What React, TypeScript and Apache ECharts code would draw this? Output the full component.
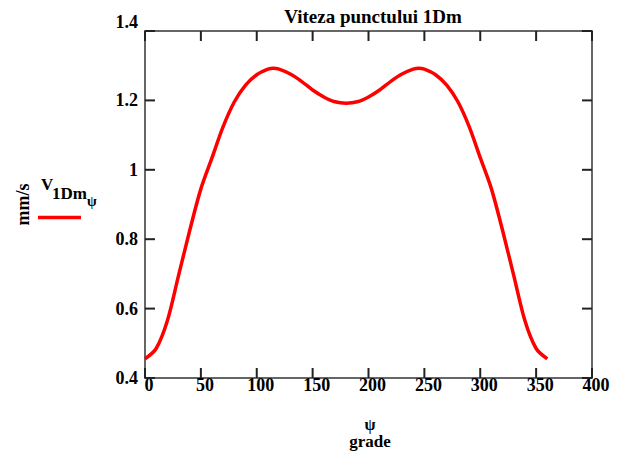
import React, { useEffect, useRef } from "react";
import * as echarts from "echarts";

const TITLE = "Viteza punctului 1Dm";
const X_NAME_TOP = "ψ";
const X_NAME_BOTTOM = "grade";
const Y_NAME = "mm/s";
const LEGEND_MAIN = "V";
const LEGEND_SUB = "1Dm";
const LEGEND_SUBSUB = "ψ";

const psi = [0, 10, 20, 30, 40, 50, 60, 70, 80, 90, 100, 110, 115, 120, 130, 140, 150, 160, 170, 180,
  190, 200, 210, 220, 230, 240, 245, 250, 260, 270, 280, 290, 300, 310, 320, 330, 340, 350, 360];
const v1Dm = [0.455, 0.485, 0.565, 0.695, 0.825, 0.945, 1.035, 1.125, 1.196, 1.244, 1.274, 1.29, 1.293, 1.29, 1.276, 1.255, 1.23, 1.21, 1.196, 1.192,
  1.196, 1.21, 1.23, 1.255, 1.276, 1.29, 1.293, 1.29, 1.274, 1.244, 1.196, 1.125, 1.035, 0.945, 0.825, 0.695, 0.565, 0.485, 0.455];

const X_TICKS = [0, 50, 100, 150, 200, 250, 300, 350, 400];
const Y_TICKS = [0.4, 0.6, 0.8, 1.0, 1.2, 1.4];
const X_MIN = 0, X_MAX = 400, X_STEP = 50;
const Y_MIN = 0.4, Y_MAX = 1.4, Y_STEP = 0.2;

const FONT = "'Liberation Serif', 'Times New Roman', serif";
const TICK_LEN = 10;
const FRAME_COLOR = "#333333";

export default function App() {
  const ref = useRef<HTMLDivElement>(null);
  useEffect(() => {
    if (!ref.current) return;
    const chart = echarts.init(ref.current, null, { renderer: "svg" });
    const data = psi.map((x, i) => [x, v1Dm[i]]);
    const mkLine = () => ({ color: FRAME_COLOR, width: 1.5 });
    const xBase = { type: "value", min: X_MIN, max: X_MAX, interval: X_STEP, splitLine: { show: false } };
    const yBase = { type: "value", min: Y_MIN, max: Y_MAX, interval: Y_STEP, splitLine: { show: false } };
    const textGraphics = [
      {
        type: "text",
        x: 370,
        y: 424,
        style: { text: X_NAME_TOP, font: `bold 16px ${FONT}`, fill: "#000", align: "center", verticalAlign: "middle" },
      },
      {
        type: "text",
        x: 370,
        y: 441,
        style: { text: X_NAME_BOTTOM, font: `bold 17px ${FONT}`, fill: "#000", align: "center", verticalAlign: "middle" },
      },
      {
        type: "text",
        x: 41,
        y: 184,
        style: { text: LEGEND_MAIN, font: `bold 17px ${FONT}`, fill: "#000", align: "left", verticalAlign: "middle" },
      },
      {
        type: "text",
        x: 52,
        y: 193,
        style: { text: LEGEND_SUB, font: `bold 17px ${FONT}`, fill: "#000", align: "left", verticalAlign: "middle" },
      },
      {
        type: "text",
        x: 87,
        y: 201,
        style: { text: LEGEND_SUBSUB, font: `bold 14px ${FONT}`, fill: "#000", align: "left", verticalAlign: "middle" },
      },
      {
        type: "line",
        shape: { x1: 38, y1: 217.5, x2: 81, y2: 217.5 },
        style: { stroke: "#ff0000", lineWidth: 3.5 },
      },
    ];
    chart.setOption({
      animation: false,
      backgroundColor: "#ffffff",
      textStyle: { fontFamily: FONT },
      title: {
        text: TITLE,
        left: 368,
        top: 2,
        textAlign: "center",
        textStyle: { fontFamily: FONT, fontWeight: "bold", fontSize: 19, color: "#000" },
      },
      grid: { left: 145, right: 28, top: 31, bottom: 78, containLabel: false },
      xAxis: [
        {
          ...xBase,
          position: "bottom",
          axisLine: { show: true, onZero: false, lineStyle: mkLine() },
          axisTick: { show: false },
          axisLabel: {
            margin: -2,
            fontFamily: FONT,
            fontWeight: "bold",
            fontSize: 18,
            color: "#000",
            padding: [0, 0, 0, 8],
          },
        },
        {
          ...xBase,
          position: "top",
          axisLine: { show: true, onZero: false, lineStyle: mkLine() },
          axisTick: { show: false },
          axisLabel: { show: false },
        },
      ],
      yAxis: [
        {
          ...yBase,
          position: "left",
          name: Y_NAME,
          nameLocation: "middle",
          nameRotate: 90,
          nameGap: 113,
          nameTextStyle: { fontFamily: FONT, fontWeight: "bold", fontSize: 18, color: "#000" },
          axisLine: { show: true, onZero: false, lineStyle: mkLine() },
          axisTick: { show: false },
          axisLabel: {
            margin: 7,
            fontFamily: FONT,
            fontWeight: "bold",
            fontSize: 18,
            color: "#000",
            padding: [6, 0, 0, 0],
            verticalAlignMaxLabel: "bottom",
          },
        },
        {
          ...yBase,
          position: "right",
          axisLine: { show: true, onZero: false, lineStyle: mkLine() },
          axisTick: { show: false },
          axisLabel: { show: false },
        },
      ],
      series: [
        {
          type: "line",
          xAxisIndex: 0,
          yAxisIndex: 0,
          data,
          smooth: 0.3,
          showSymbol: false,
          lineStyle: { color: "#ff0000", width: 3.5 },
          itemStyle: { color: "#ff0000" },
        },
      ],
      graphic: textGraphics,
    });

    // inward tick marks on all four sides, positioned through the chart's own scales
    const toPx = (x: number, y: number) =>
      chart.convertToPixel({ xAxisIndex: 0, yAxisIndex: 0 }, [x, y]) as number[];
    const tickEls: any[] = [];
    const mkTick = (x1: number, y1: number, x2: number, y2: number) => ({
      type: "line",
      z: 100,
      silent: true,
      shape: { x1, y1, x2, y2 },
      style: { stroke: "#222222", lineWidth: 2 },
    });
    X_TICKS.forEach((v) => {
      const b = toPx(v, Y_MIN);
      const t = toPx(v, Y_MAX);
      tickEls.push(mkTick(b[0], b[1], b[0], b[1] - TICK_LEN));
      tickEls.push(mkTick(t[0], t[1], t[0], t[1] + TICK_LEN));
    });
    Y_TICKS.forEach((v) => {
      const l = toPx(X_MIN, v);
      const r = toPx(X_MAX, v);
      tickEls.push(mkTick(l[0], l[1], l[0] + TICK_LEN, l[1]));
      tickEls.push(mkTick(r[0], r[1], r[0] - TICK_LEN, r[1]));
    });
    chart.setOption({ graphic: [...textGraphics, ...tickEls] }, { replaceMerge: ["graphic"] });

    return () => chart.dispose();
  }, []);
  return <div ref={ref} style={{ width: 620, height: 456, position: "absolute", left: 0, top: 0 }} />;
}
